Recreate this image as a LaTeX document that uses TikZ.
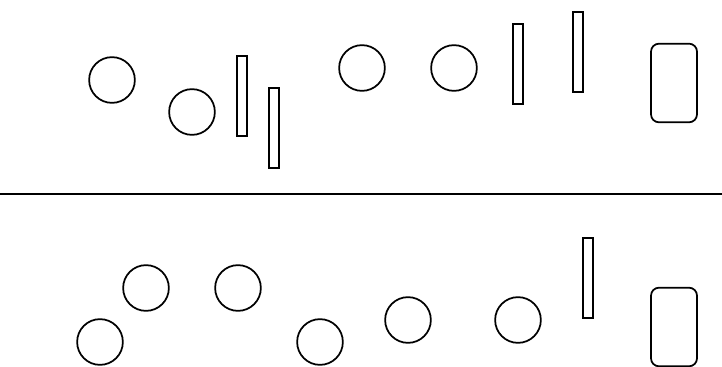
\documentclass[tikz,border=0pt]{standalone}
\usetikzlibrary{positioning}

\begin{document}
\begin{tikzpicture}[x=0.75pt,y=-0.75pt,line width=1.3pt,
  disc/.style={circle,draw=black,inner sep=0,minimum size=34.3pt},
  bar/.style={rectangle,draw=black,inner sep=0,minimum width=7.4pt,minimum height=60pt},
  card/.style={rectangle,rounded corners=6pt,draw=black,inner sep=0,minimum width=34.5pt,minimum height=59pt}]
\useasboundingbox (0,0) rectangle (722,367);
% ---------- upper row ----------
\foreach \p/\n in {{112,80}/ua,{192,112}/ub,{362,68}/uc,{454,68}/ud}{\node[disc] (\n) at (\p) {};}
\foreach \p/\n in {{242,96}/ue,{274,128}/uf,{518,64}/ug,{578,52}/uh}{\node[bar] (\n) at (\p) {};}
\node[card] (ucard) at (674,83) {};
% ---------- divider ----------
\coordinate (sl) at (0,194);
\coordinate (sr) at (722,194);
\draw (sl) -- (sr);
% ---------- lower row ----------
\foreach \p/\n in {{146,288}/la,{238,288}/lb,{100,342}/lc,{320,342}/ld,{408,320}/le,{518,320}/lf}{\node[disc] (\n) at (\p) {};}
\node[bar] (lg) at (588,278) {};
\node[card] (lcard) at (674,327) {};
\end{tikzpicture}
\end{document}
